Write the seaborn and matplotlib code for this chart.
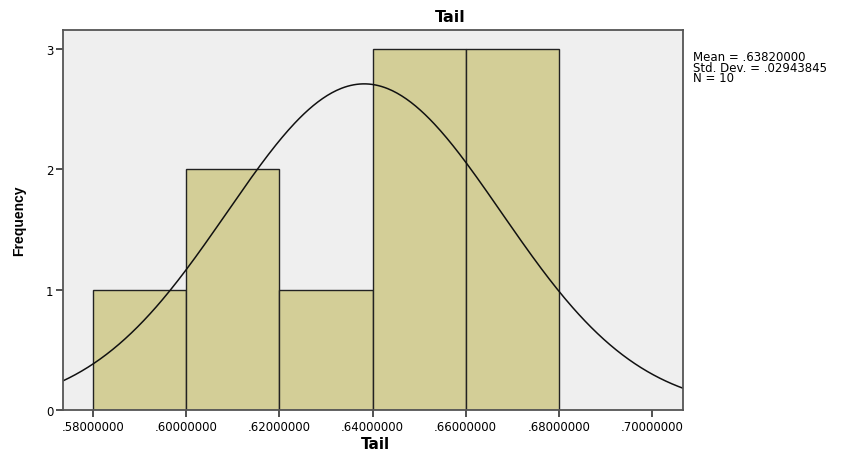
import numpy as np
import matplotlib
matplotlib.use("Agg")
import matplotlib.pyplot as plt
import seaborn as sns

# Data
bin_edges = [0.58, 0.60, 0.62, 0.64, 0.66, 0.68]
counts = [1, 2, 1, 3, 3]
mean_val = 0.6382
std_val = 0.02943845
n_val = 10
x_ticks = [0.58, 0.60, 0.62, 0.64, 0.66, 0.68, 0.70]
y_ticks = [0, 1, 2, 3]
stats_lines = ['Mean = .63820000', 'Std. Dev. = .02943845', 'N = 10']

sns.set_theme(style="white")
plt.rcParams['font.family'] = ['DejaVu Sans']
plt.rcParams['text.color'] = 'black'
plt.rcParams['xtick.color'] = 'black'
plt.rcParams['ytick.color'] = 'black'

W, H = 852, 452
fig = plt.figure(figsize=(W/100, H/100), dpi=100)
ax = fig.add_axes([63/W, 1-411/H, (683-63)/W, (411-31)/H])
ax.set_facecolor('#EFEFEF')

centers = [(a + b) / 2 for a, b in zip(bin_edges[:-1], bin_edges[1:])]
sns.histplot(x=centers, weights=counts, bins=bin_edges, ax=ax,
             color='#D3CE97', alpha=1, edgecolor='#222222', linewidth=1.0)

bw = bin_edges[1] - bin_edges[0]
xs = np.linspace(0.5735, 0.7067, 400)
ys = n_val * bw / (std_val * np.sqrt(2*np.pi)) * np.exp(-0.5*((xs-mean_val)/std_val)**2)
sns.lineplot(x=xs, y=ys, ax=ax, color='#111111', linewidth=1.1)

ax.set_xlim(0.5735, 0.7067)
ax.set_ylim(0, 3.158)
ax.set_xticks(x_ticks)
ax.set_xticklabels(['.%08d' % round(v*1e8) for v in x_ticks], fontsize=8.5)
ax.set_yticks(y_ticks)
ax.set_yticklabels([str(v) for v in y_ticks], fontsize=8.5)
ax.tick_params(axis='both', direction='out', length=5, width=1.2, color='#333333',
               labelcolor='black', bottom=True, left=True, pad=2)
for s in ax.spines.values():
    s.set_color('#555555')
    s.set_linewidth(1.3)

ax.set_xlabel('')
ax.set_ylabel('')
fig.text(375/W, 1-445/H, 'Tail', fontsize=11, fontweight='bold', ha='center', va='center')
fig.text(19/W, 1-221/H, 'Frequency', fontsize=10, fontweight='bold', ha='center', va='center',
         rotation=90, family='Liberation Sans')
fig.text(450/W, 1-18/H, 'Tail', fontsize=11.5, fontweight='bold', ha='center', va='center')

fig.text(693/W, 1-51/H, '\n'.join(stats_lines), fontsize=8.5, va='top', ha='left',
         linespacing=0.75)

fig.savefig('out.png', dpi=100)
